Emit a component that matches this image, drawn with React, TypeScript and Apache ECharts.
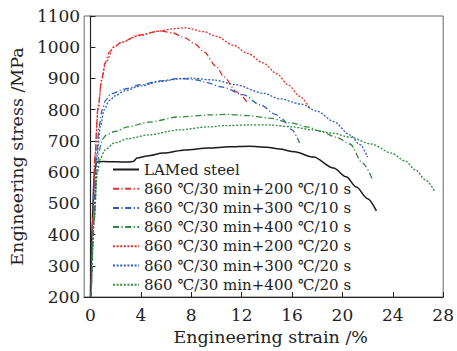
import React, { useEffect, useRef } from "react";
import * as echarts from "echarts";

const seriesNames = [
  "LAMed steel",
  "860 ℃/30 min+200 ℃/10 s",
  "860 ℃/30 min+300 ℃/10 s",
  "860 ℃/30 min+400 ℃/10 s",
  "860 ℃/30 min+200 ℃/20 s",
  "860 ℃/30 min+300 ℃/20 s",
  "860 ℃/30 min+400 ℃/20 s",
];

const xTicks = [0, 4, 8, 12, 16, 20, 24, 28];

const lamed = [
  [0, 200], [0.15, 450], [0.3, 600], [0.5, 632], [1, 634], [2, 633], [3, 632], [3.4, 634],
  [3.7, 645], [4.5, 652], [5.8, 661], [7.5, 671], [9.4, 677], [11, 681], [12.6, 683],
  [14, 680], [15, 674], [16.2, 665], [17.7, 648], [19.3, 613], [20.3, 585], [21.1, 552],
  [22, 515], [22.7, 476],
];

const c200s10 = [
  [0.05, 200], [0.2, 450], [0.35, 650], [0.6, 808], [0.9, 900], [1.16, 950], [1.5, 985],
  [1.85, 1001], [2.5, 1017], [3.8, 1039], [5.55, 1052], [6.5, 1046], [7.5, 1030], [8.3, 1010],
  [9, 985], [10, 938], [10.6, 905], [11.6, 857], [12.5, 820],
];

const c300s10 = [
  [0.05, 200], [0.25, 450], [0.45, 650], [0.7, 750], [0.93, 800], [1.2, 830], [1.6, 850],
  [2.7, 866], [4, 880], [5.5, 892], [7.1, 900], [8.5, 895], [9, 889], [10.5, 872],
  [12.1, 848], [13.5, 815], [14.7, 785], [15.2, 770], [16, 735], [16.6, 693],
];

const c400s10 = [
  [0.05, 200], [0.3, 450], [0.5, 600], [0.7, 670], [0.93, 705], [1.3, 720], [1.9, 730],
  [3, 745], [4.55, 760], [7.1, 777], [9.4, 783], [10.8, 785], [12.5, 781], [14.2, 773],
  [16, 757], [17.2, 745], [18.3, 730], [19.5, 712], [20.6, 690], [21.6, 629], [22.4, 575],
];

const c200s20 = [
  [0.05, 200], [0.2, 450], [0.35, 650], [0.6, 800], [0.9, 895], [1.2, 950], [1.85, 1000],
  [2.5, 1016], [3.8, 1037], [5.5, 1052], [6.5, 1059], [7.5, 1062], [9, 1050], [10, 1035],
  [11.3, 1007], [12.5, 980], [13.7, 950], [14.8, 915], [15.7, 879], [16.6, 843], [17.4, 805],
];

const c300s20 = [
  [0.05, 200], [0.3, 450], [0.5, 650], [0.8, 750], [1.1, 800], [1.5, 830], [2, 845],
  [2.7, 860], [4, 876], [5.5, 890], [7.1, 899], [8, 901], [9.8, 895], [11.5, 880],
  [13.7, 853], [15, 835], [16.7, 818], [18, 795], [19.3, 762], [20.6, 719], [21.4, 688],
  [22, 648],
];

const c400s20 = [
  [0.05, 200], [0.3, 450], [0.55, 600], [0.8, 645], [1.16, 671], [1.9, 693], [3, 707],
  [4.55, 719], [7, 735], [9.4, 745], [10.8, 749], [12.5, 751], [14.2, 751], [16, 745],
  [17.7, 735], [19.2, 725], [20.6, 712], [22.3, 690], [23.9, 661], [25, 635], [25.8, 607],
  [26.6, 575], [27.3, 540],
];

const seriesData = [lamed, c200s10, c300s10, c400s10, c200s20, c300s20, c400s20];
const colors = ["#1a1a1a", "#e0302c", "#2b5cb8", "#2e8a3e", "#e0302c", "#2b5cb8", "#2e8a3e"];
const dashDot = [6, 2.5, 1.2, 2.5];
const dotted = [2, 1.6];
const lineTypes: any[] = ["solid", dashDot, dashDot, dashDot, dotted, dotted, dotted];

const FONT = "DejaVu Serif";

export default function App() {
  const ref = useRef<HTMLDivElement>(null);
  useEffect(() => {
    if (!ref.current) return;
    const chart = echarts.init(ref.current, undefined, { renderer: "svg" });
    chart.setOption({
      animation: false,
      textStyle: { fontFamily: FONT, fontWeight: "normal" },
      grid: {
        left: 77,
        right: 11,
        top: 16,
        bottom: 54,
        show: true,
        borderColor: "#666",
        borderWidth: 1,
      },
      legend: {
        orient: "vertical",
        left: 107,
        top: 157,
        itemWidth: 26,
        itemHeight: 12,
        itemGap: 4.2,
        data: seriesNames,
        itemStyle: { opacity: 0 },
        textStyle: { fontFamily: FONT, fontSize: 15, color: "#222", fontWeight: "normal" },
      },
      xAxis: {
        type: "value",
        min: -0.5,
        max: 28,
        name: "Engineering strain /%",
        nameLocation: "middle",
        nameGap: 21,
        nameTextStyle: {
          fontFamily: FONT,
          fontSize: 17.5,
          color: "#222",
          verticalAlign: "top",
          fontWeight: "normal",
          padding: [0, 0, 0, 14],
        },
        axisLine: { lineStyle: { color: "#222", width: 1.2 } },
        axisTick: { inside: true, length: 5, customValues: xTicks, lineStyle: { color: "#222" } },
        axisLabel: {
          customValues: xTicks,
          fontFamily: FONT,
          fontSize: 17,
          color: "#222",
          margin: 9,
        },
        splitLine: { show: false },
      },
      yAxis: {
        type: "value",
        min: 200,
        max: 1100,
        interval: 100,
        name: "Engineering stress /MPa",
        nameLocation: "middle",
        nameGap: 44,
        nameTextStyle: { fontFamily: FONT, fontSize: 17.5, color: "#222", fontWeight: "normal" },
        axisLine: { show: true, lineStyle: { color: "#222", width: 1.2 } },
        axisTick: { show: true, inside: true, length: 5, lineStyle: { color: "#222" } },
        axisLabel: {
          fontFamily: FONT,
          fontSize: 17,
          color: "#222",
          margin: 4,
          formatter: (v: number) => String(v),
        },
        splitLine: { show: false },
      },
      series: seriesNames.map((name, i) => ({
        name,
        type: "line",
        data: seriesData[i],
        showSymbol: false,
        symbol: "none",
        smooth: 0.3,
        smoothMonotone: "x",
        color: colors[i],
        lineStyle: { color: colors[i], width: i === 0 ? 1.5 : 1.3, type: lineTypes[i] },
      })),
    });
    return () => chart.dispose();
  }, []);
  return <div ref={ref} style={{ width: 457, height: 351, position: "absolute", left: 0, top: 0 }} />;
}
